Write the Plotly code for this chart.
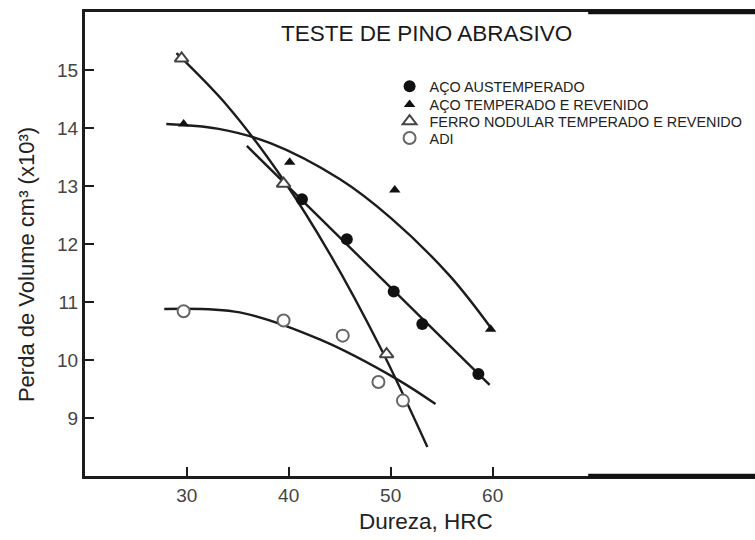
import plotly.graph_objects as go

# ---- data ----
aust_x = [41.3, 45.7, 50.3, 53.1, 58.6]
aust_y = [12.77, 12.08, 11.18, 10.62, 9.76]

temp_x = [29.7, 40.1, 50.4, 59.8]
temp_y = [14.07, 13.41, 12.93, 10.53]

ferro_x = [29.5, 39.5, 49.6]
ferro_y = [15.20, 13.04, 10.10]

adi_x = [29.7, 39.5, 45.3, 48.8, 51.2]
adi_y = [10.84, 10.68, 10.42, 9.62, 9.30]

# trend curves
aust_curve_x = [35.9, 59.7]
aust_curve_y = [13.69, 9.57]
temp_curve_x = [28.0, 33.0, 38.2, 45.0, 50.0, 55.8, 59.8]
temp_curve_y = [14.07, 13.99, 13.74, 13.12, 12.45, 11.45, 10.56]
ferro_curve_x = [29.0, 34.0, 39.5, 44.0, 49.0, 53.6]
ferro_curve_y = [15.29, 14.38, 13.10, 11.84, 10.21, 8.50]
adi_curve_x = [27.8, 35.2, 43.1, 50.6, 54.4]
adi_curve_y = [10.88, 10.82, 10.35, 9.67, 9.24]

series_names = ["AÇO AUSTEMPERADO", "AÇO TEMPERADO E REVENIDO",
                "FERRO NODULAR TEMPERADO E REVENIDO", "ADI"]
x_ticks = [30, 40, 50, 60]
y_ticks = [9, 10, 11, 12, 13, 14, 15]

FONT = "Liberation Sans, Arial, Helvetica, sans-serif"
LINE = "#1c1c1c"

fig = go.Figure()

for cx, cy in [(aust_curve_x, aust_curve_y), (temp_curve_x, temp_curve_y),
               (ferro_curve_x, ferro_curve_y), (adi_curve_x, adi_curve_y)]:
    fig.add_trace(go.Scatter(x=cx, y=cy, mode="lines", showlegend=False,
                             line=dict(color=LINE, width=2.4, shape="spline", smoothing=1.0),
                             hoverinfo="skip"))

fig.add_trace(go.Scatter(x=aust_x, y=aust_y, mode="markers", name=series_names[0],
                         legend="legend",
                         marker=dict(symbol="circle", size=12, color="#111111",
                                     line=dict(width=0))))
fig.add_trace(go.Scatter(x=temp_x, y=temp_y, mode="markers", name=series_names[1],
                         legend="legend2",
                         marker=dict(symbol="triangle-up", size=10, color="#111111",
                                     line=dict(width=0))))
fig.add_trace(go.Scatter(x=ferro_x, y=ferro_y, mode="markers", name=series_names[2],
                         legend="legend3",
                         marker=dict(symbol="triangle-up", size=12, color="white",
                                     line=dict(width=2, color="#444444"))))
fig.add_trace(go.Scatter(x=adi_x, y=adi_y, mode="markers", name=series_names[3],
                         legend="legend4",
                         marker=dict(symbol="circle", size=12, color="white",
                                     line=dict(width=2, color="#666666"))))


def legend_box(ypos):
    return dict(x=0.4546, y=ypos, xanchor="left", yanchor="top",
                bgcolor="rgba(0,0,0,0)", font=dict(size=14.4, color="#222222"),
                itemclick=False, itemdoubleclick=False)


fig.update_layout(
    width=755, height=540,
    margin=dict(l=85, r=0, t=12, b=64),
    paper_bgcolor="white", plot_bgcolor="white",
    font=dict(family=FONT, color="#222222"),
    showlegend=True,
    legend=legend_box(0.8741),
    legend2=legend_box(0.8347),
    legend3=legend_box(0.7987),
    legend4=legend_box(0.7627),
    xaxis=dict(range=[20.03, 85.72], tickvals=x_ticks, ticks="inside", ticklen=9,
               tickwidth=2, tickcolor=LINE, showline=True, linewidth=3, linecolor=LINE,
               mirror=True, showgrid=False, zeroline=False,
               tickfont=dict(size=19, color="#444444")),
    yaxis=dict(range=[8, 16], tickvals=y_ticks, ticks="inside", ticklen=9,
               tickwidth=2, tickcolor=LINE, showline=True, linewidth=3, linecolor=LINE,
               mirror=False, showgrid=False, zeroline=False,
               tickfont=dict(size=19, color="#444444"), ticklabelstandoff=0),
    annotations=[
        dict(text="TESTE DE PINO ABRASIVO", x=0.509, y=0.9547, xref="paper", yref="paper",
             xanchor="center", yanchor="middle", showarrow=False,
             font=dict(size=22.5, color="#1a1a1a")),
        dict(text="Perda de Volume cm³ (x10³)", x=-0.088, y=0.4547, xref="paper",
             yref="paper", xanchor="center", yanchor="middle", showarrow=False,
             textangle=-90, font=dict(size=22, color="#222222")),
        dict(text="Dureza, HRC", x=0.509, y=-0.0991, xref="paper", yref="paper",
             xanchor="center", yanchor="middle", showarrow=False,
             font=dict(size=22.5, color="#222222")),
    ],
    shapes=[
        dict(type="line", xref="x domain", yref="y domain", x0=0.751, x1=1, y0=1, y1=1,
             line=dict(color="#111111", width=4.5)),
        dict(type="line", xref="x domain", yref="y domain", x0=0.751, x1=1, y0=0, y1=0,
             line=dict(color="#111111", width=4.5)),
    ],
)

fig.write_html("out.html")
